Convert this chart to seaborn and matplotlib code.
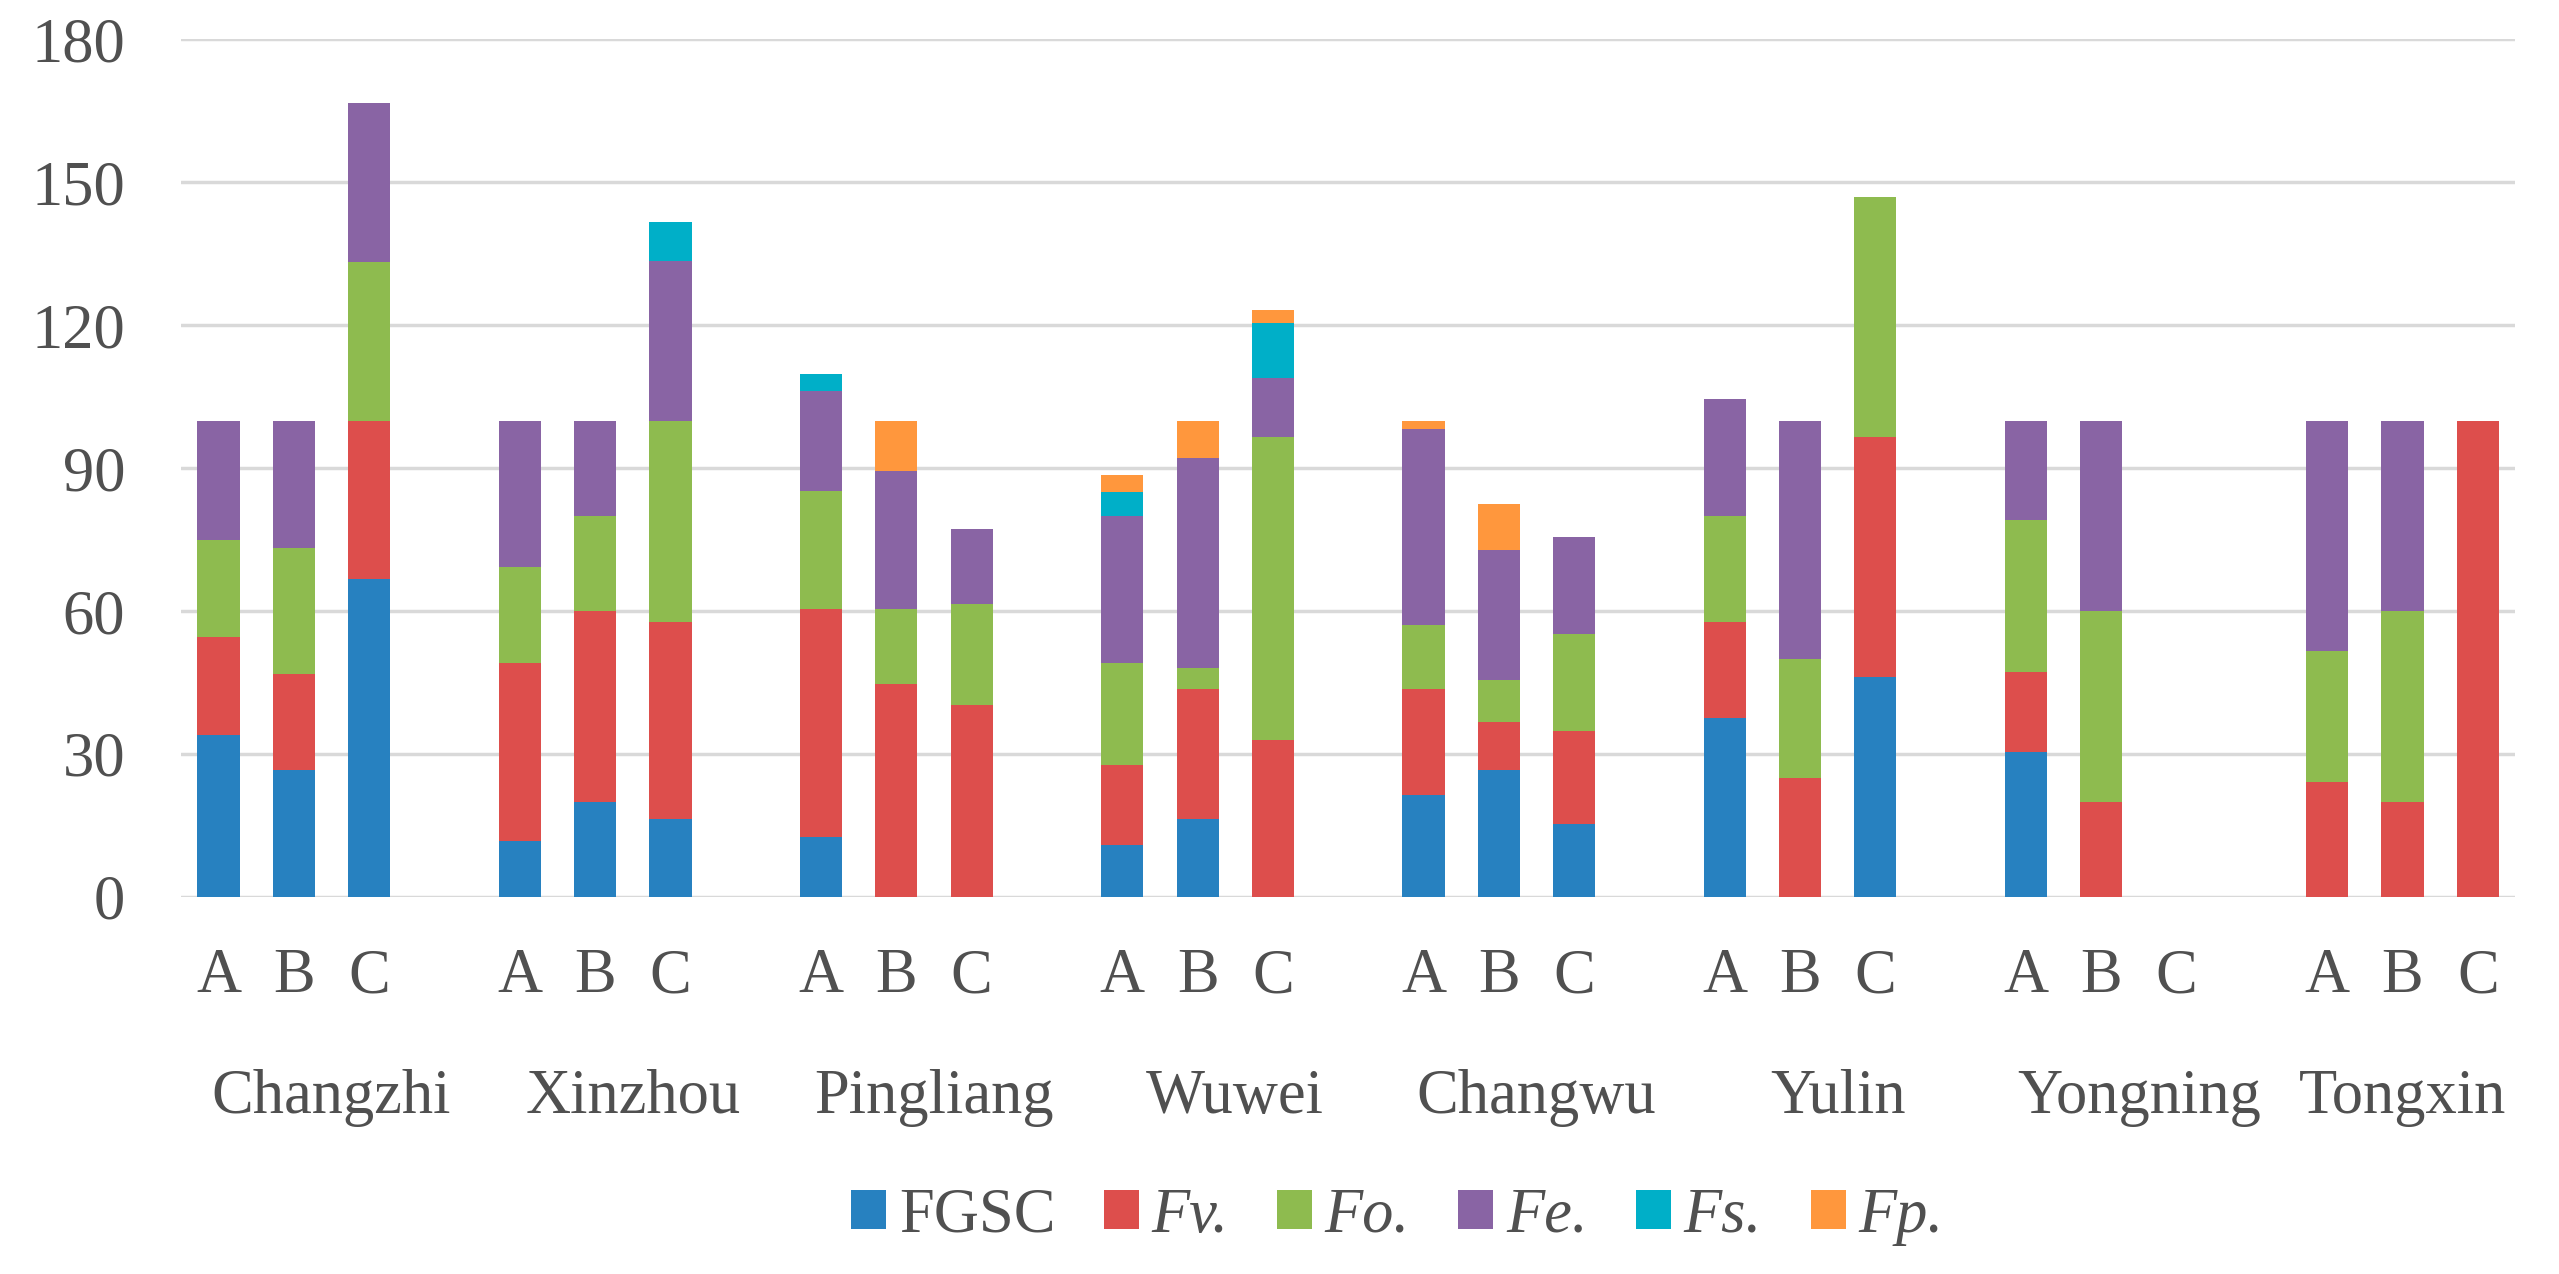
import numpy as np
import pandas as pd
import matplotlib
matplotlib.use("Agg")
import matplotlib.pyplot as plt
import matplotlib.transforms as mtransforms
from matplotlib import font_manager
from matplotlib.patches import Patch
import seaborn as sns

# data
cities = ["Changzhi", "Xinzhou", "Pingliang", "Wuwei", "Changwu", "Yulin", "Yongning", "Tongxin"]
sites = ["A", "B", "C"]
species = ["FGSC", "Fv.", "Fo.", "Fe.", "Fs.", "Fp."]

fgsc = [34, 26.7, 66.7, 11.7, 20, 16.3, 12.5, 0, 0, 10.8, 16.3, 0,
        21.4, 26.7, 15.2, 37.5, 0, 46.2, 30.4, 0, 0, 0, 0, 0]
fv = [20.5, 20, 33.3, 37.3, 40, 41.5, 48, 44.6, 40.2, 16.9, 27.3, 33,
      22.2, 10, 19.6, 20.3, 25, 50.4, 16.8, 20, 0, 24.2, 20, 100]
fo = [20.5, 26.6, 33.3, 20.3, 20, 42.2, 24.7, 15.9, 21.2, 21.3, 4.5, 63.6,
      13.4, 8.8, 20.4, 22.1, 25, 50.3, 31.9, 40, 0, 27.5, 40, 0]
fe = [25, 26.7, 33.3, 30.7, 20, 33.5, 21.1, 29, 15.8, 30.9, 44.1, 12.3,
      41.3, 27.3, 20.3, 24.6, 50, 0, 20.9, 40, 0, 48.3, 40, 0]
fs = [0, 0, 0, 0, 0, 8.1, 3.4, 0, 0, 5.1, 0, 11.6,
      0, 0, 0, 0, 0, 0, 0, 0, 0, 0, 0, 0]
fp = [0, 0, 0, 0, 0, 0, 0, 10.5, 0, 3.6, 7.8, 2.7,
      1.7, 9.7, 0, 0, 0, 0, 0, 0, 0, 0, 0, 0]

colors = ["#2781C0", "#DD4E4C", "#8EBB4F", "#8964A4", "#00AFC8", "#FF973D"]
text_col = "#505050"
fs_txt = 45

# long table, one row per segment; each city takes 4 slots (3 sites + gap)
rows = []
for sp, vals in zip(species, [fgsc, fv, fo, fe, fs, fp]):
    for i, v in enumerate(vals):
        ci, si = divmod(i, 3)
        rows.append({"slot": ci * 4 + si, "species": sp, "value": v})
df = pd.DataFrame(rows)

sns.set_theme(style="white")
# Times-like serif, whichever one is installed
installed = {f.name for f in font_manager.fontManager.ttflist}
serif = next(
    (n for n in ["Liberation Serif", "Times New Roman", "Tinos", "Nimbus Roman",
                 "TeX Gyre Termes", "DejaVu Serif"] if n in installed),
    "DejaVu Serif",
)
plt.rcParams["font.family"] = [serif, "DejaVu Serif"]

fig = plt.figure(figsize=(25.59, 12.74), dpi=100)
ax = fig.add_axes([0.0707, 0.296, 0.9123, 0.673])

sns.histplot(
    data=df,
    x="slot",
    weights="value",
    hue="species",
    hue_order=species[::-1],  # last level ends up at the bottom of the stack
    palette=dict(zip(species, colors)),
    multiple="stack",
    discrete=True,
    shrink=0.56,
    alpha=1,
    linewidth=0,
    legend=False,
    ax=ax,
)

ax.set_xlim(-0.5, 30.5)
ax.set_ylim(0, 180)
ax.set_yticks(np.arange(0, 181, 30))
ax.set_axisbelow(True)
ax.grid(axis="y", color="#d9d9d9", linewidth=2.5)
ax.grid(axis="x", visible=False)
for s in ax.spines.values():
    s.set_visible(False)

slots = [ci * 4 + si for ci in range(len(cities)) for si in range(3)]
ax.set_xticks(slots)
ax.set_xticklabels(sites * len(cities))
ax.tick_params(axis="x", length=0, pad=37, labelsize=fs_txt, labelcolor=text_col)
ax.tick_params(axis="y", length=0, pad=40, labelsize=fs_txt, labelcolor=text_col)
ax.set_xlabel("")
ax.set_ylabel("")

# city labels (multi-level category axis)
trans = mtransforms.blended_transform_factory(ax.transData, fig.transFigure)
for ci, city in enumerate(cities):
    cx = ci * 4 + 1.5 if ci < len(cities) - 1 else ci * 4 + 1
    ax.text(cx, 0.1264, city, transform=trans, ha="center", va="baseline",
            fontsize=fs_txt, color=text_col)

handles = [Patch(facecolor=c, edgecolor="none") for c in colors]
leg = fig.legend(
    handles, species, loc="center", bbox_to_anchor=(0.546, 0.045), ncol=6,
    frameon=False, fontsize=fs_txt, handlelength=0.56, handleheight=0.6,
    handletextpad=0.2, columnspacing=0.78, labelcolor=text_col,
)
for t in leg.get_texts()[1:]:
    t.set_style("italic")

fig.savefig("out.png", dpi=100)
